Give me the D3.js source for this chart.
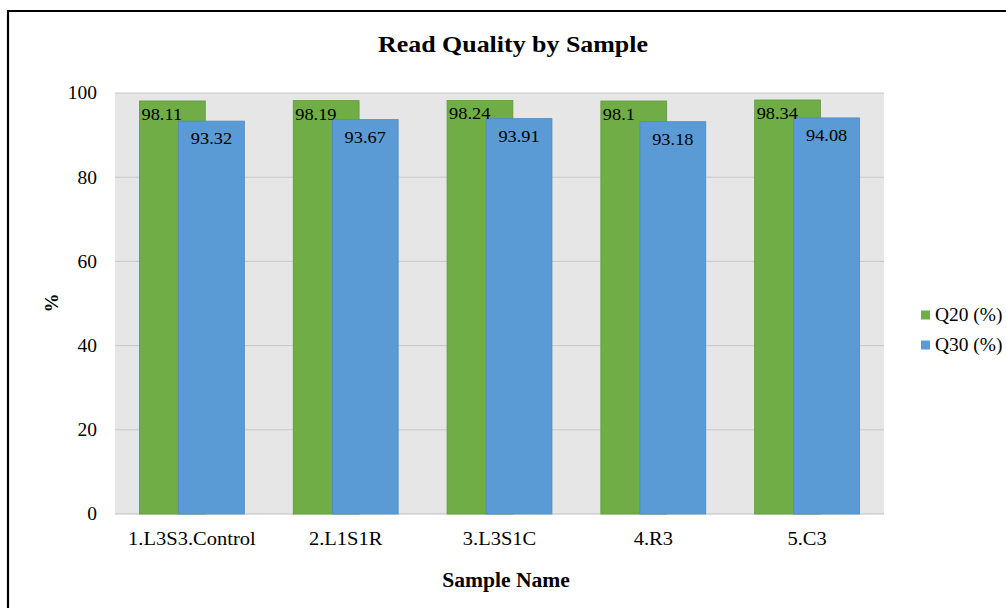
<!DOCTYPE html>
<html>
<head>
<meta charset="utf-8">
<script src="https://cdn.jsdelivr.net/npm/d3@7"></script>
<style>
  html, body { margin: 0; padding: 0; background: #fff; }
  svg { display: block; }
  text { font-family: "Liberation Serif", "Times New Roman", serif; fill: #000; }
</style>
</head>
<body>
<script>
const categories = ["1.L3S3.Control", "2.L1S1R", "3.L3S1C", "4.R3", "5.C3"];
const q20 = [98.11, 98.19, 98.24, 98.1, 98.34];
const q30 = [93.32, 93.67, 93.91, 93.18, 94.08];
const seriesNames = ["Q20 (%)", "Q30 (%)"];
const yTicks = [0, 20, 40, 60, 80, 100];
const title = "Read Quality by Sample";
const xTitle = "Sample Name";
const yTitle = "%";

const W = 1006, H = 608;
const colors = ["#70AD47", "#5B9BD5"];
const strokes = ["#5E9A3A", "#4A8AC4"];
const SX = 1.08; // horizontal stretch of text, as in the reference image

const svg = d3.select("body").append("svg").attr("width", W).attr("height", H);
const tr = (px, py) => `translate(${px},${py}) scale(${SX},1)`;

// outer frame
svg.append("path")
  .attr("d", `M8,${H} L8,11 L${W},11`)
  .attr("fill", "none").attr("stroke", "#000").attr("stroke-width", 2.2);

const plot = { left: 115, right: 884, top: 93, bottom: 514 };

const x = d3.scaleBand().domain(categories).range([plot.left, plot.right]).paddingInner(0).paddingOuter(0);
const y = d3.scaleLinear().domain([0, 100]).range([plot.bottom, plot.top]);

// plot background
svg.append("rect")
  .attr("x", plot.left).attr("y", plot.top)
  .attr("width", plot.right - plot.left).attr("height", plot.bottom - plot.top)
  .attr("fill", "#E7E6E6");

// gridlines
svg.append("g").selectAll("line").data(yTicks).join("line")
  .attr("x1", plot.left).attr("x2", plot.right)
  .attr("y1", d => y(d)).attr("y2", d => y(d))
  .attr("stroke", d => d === 0 ? "#BFBFBF" : "#C8C8C8").attr("stroke-width", 1);

// y tick labels
svg.append("g").selectAll("text").data(yTicks).join("text")
  .attr("transform", d => tr(97, y(d))).attr("dy", "0.35em")
  .attr("text-anchor", "end").attr("font-size", 18)
  .text(d => d);

const bw = x.bandwidth();
const barW = bw * 0.428;
const shift = bw * 0.254;
const gx = c => x(c) + bw / 2 - (barW + shift) / 2;

const data = categories.map((c, i) => ({ c, v: [q20[i], q30[i]] }));

[0, 1].forEach(s => {
  svg.append("g").selectAll("rect").data(data).join("rect")
    .attr("x", d => gx(d.c) + s * shift)
    .attr("y", d => y(d.v[s]))
    .attr("width", barW)
    .attr("height", d => y(0) - y(d.v[s]))
    .attr("fill", colors[s])
    .attr("stroke", strokes[s]).attr("stroke-width", 0.8);
});

// data labels
svg.append("g").selectAll("text").data(data).join("text")
  .attr("transform", d => tr(gx(d.c) + 2, y(d.v[0]) + 19))
  .attr("font-size", 17)
  .text(d => d.v[0]);
svg.append("g").selectAll("text").data(data).join("text")
  .attr("transform", d => tr(gx(d.c) + shift + barW / 2, y(d.v[1]) + 23))
  .attr("text-anchor", "middle")
  .attr("font-size", 17)
  .text(d => d.v[1]);

// x labels
svg.append("g").selectAll("text").data(categories).join("text")
  .attr("transform", d => tr(x(d) + bw / 2, 545))
  .attr("text-anchor", "middle").attr("font-size", 19)
  .text(d => d);

// titles
svg.append("text").attr("transform", tr(513, 52))
  .attr("text-anchor", "middle").attr("font-size", 24).attr("font-weight", "bold")
  .text(title);
svg.append("text").attr("transform", tr(506, 587))
  .attr("text-anchor", "middle").attr("font-size", 20).attr("font-weight", "bold")
  .text(xTitle);
svg.append("text").attr("transform", "translate(58,303) rotate(-90)")
  .attr("text-anchor", "middle").attr("font-size", 19).attr("font-weight", "bold")
  .text(yTitle);

// legend
const lg = svg.append("g").selectAll("g").data(seriesNames).join("g")
  .attr("transform", (d, i) => `translate(921,${315 + i * 30})`);
lg.append("rect").attr("x", 0).attr("y", -4.5).attr("width", 9).attr("height", 9)
  .attr("fill", (d, i) => colors[i]);
lg.append("text").attr("transform", tr(14, 0)).attr("dy", "0.35em")
  .attr("font-size", 18).text(d => d);
</script>
</body>
</html>
